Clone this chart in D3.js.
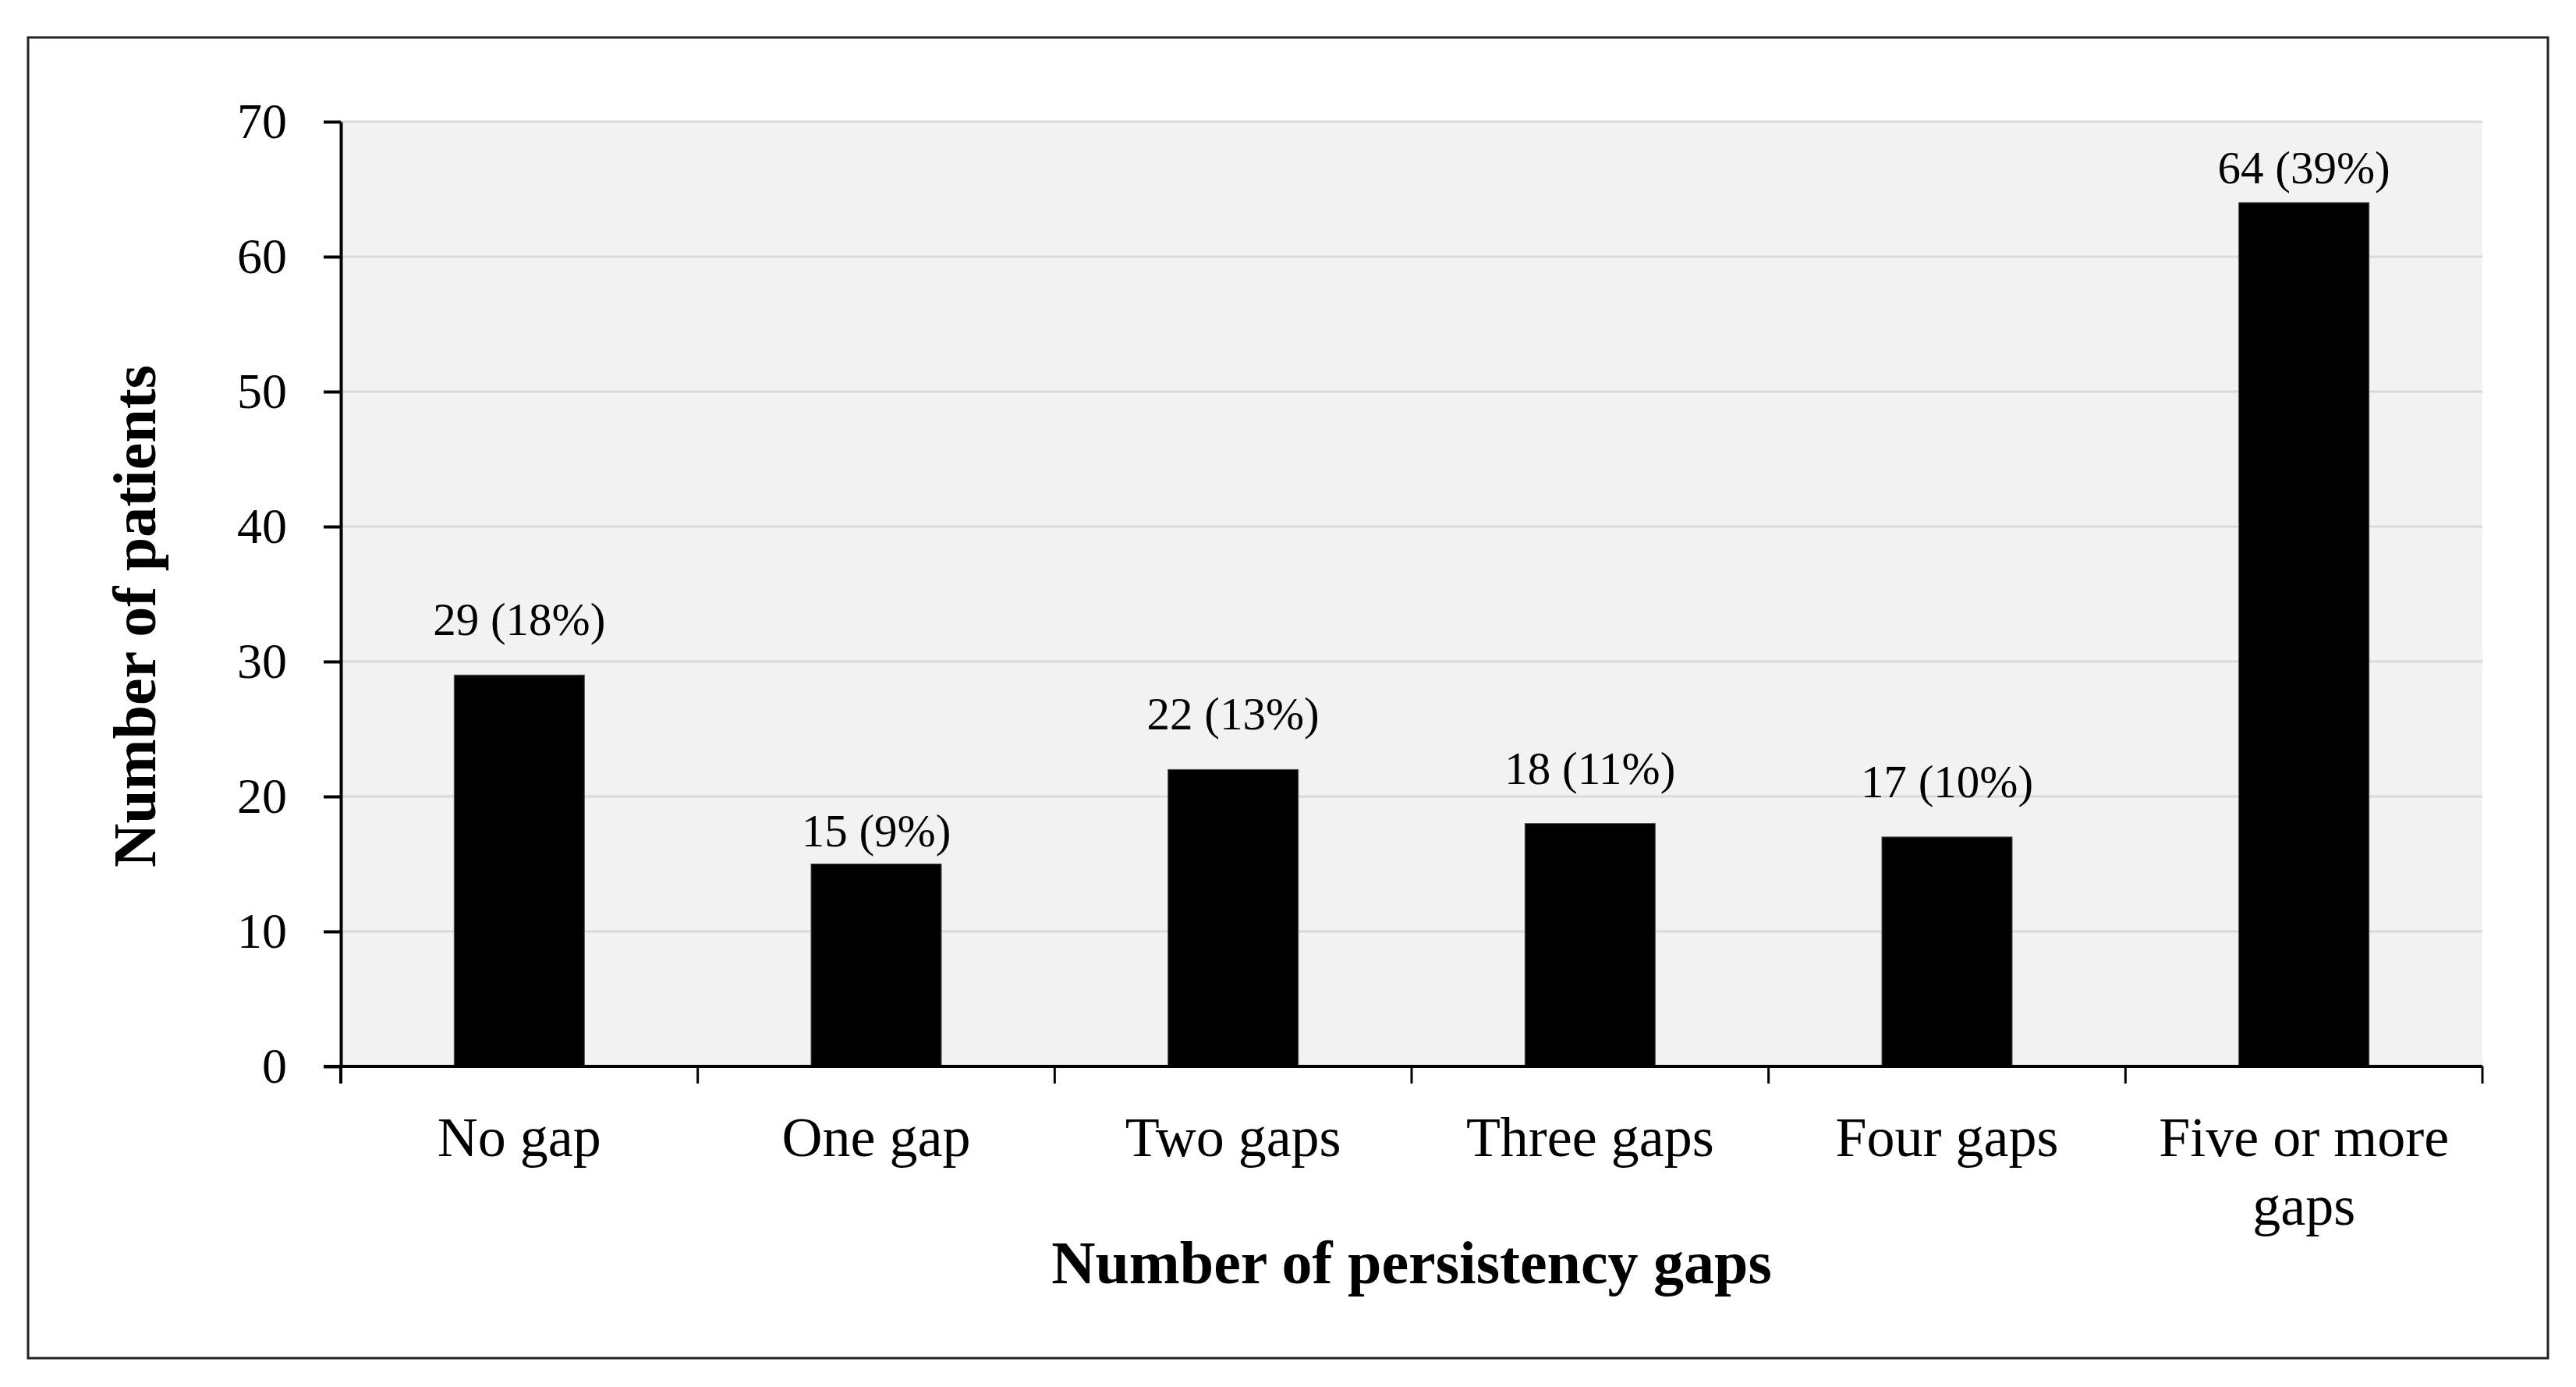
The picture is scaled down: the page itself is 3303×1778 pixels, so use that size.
<!DOCTYPE html>
<meta charset="utf-8">
<script src="https://d3js.org/d3.v7.min.js"></script>
<style>
  body { margin: 0; background: #fff; }
  text { font-family: "Liberation Serif", "Times New Roman", serif; fill: #000; }
</style>
<div id="chart"></div>
<script>
  // data
  const categories = ["No gap", "One gap", "Two gaps", "Three gaps", "Four gaps", "Five or more gaps"];
  const patients = [29, 15, 22, 18, 17, 64];
  const percents = [18, 9, 13, 11, 10, 39];
  const yTicks = [0, 10, 20, 30, 40, 50, 60, 70];

  // how far each value label sits above its bar (px), as placed in the original
  const labelLift = [51, 23, 51, 51, 51, 25];

  const width = 3303, height = 1778;
  const plot = { left: 437, right: 3183, top: 156, bottom: 1367 };

  const svg = d3.select("#chart").append("svg")
    .attr("width", width)
    .attr("height", height);

  // outer frame
  svg.append("rect")
    .attr("x", 36).attr("y", 48)
    .attr("width", 3267 - 36).attr("height", 1741 - 48)
    .attr("fill", "#fff")
    .attr("stroke", "#222")
    .attr("stroke-width", 3);

  const x = d3.scaleBand()
    .domain(categories)
    .range([plot.left, plot.right])
    .paddingInner(0.635)
    .paddingOuter(0.3175);

  const y = d3.scaleLinear()
    .domain([0, 70])
    .range([plot.bottom, plot.top]);

  // plot background
  svg.append("rect")
    .attr("x", plot.left).attr("y", y(70))
    .attr("width", plot.right - plot.left)
    .attr("height", y(0) - y(70))
    .attr("fill", "#f2f2f2");

  // gridlines
  svg.append("g")
    .selectAll("line")
    .data(yTicks.filter(d => d > 0))
    .join("line")
    .attr("x1", plot.left).attr("x2", plot.right)
    .attr("y1", d => y(d)).attr("y2", d => y(d))
    .attr("stroke", "#d9d9d9")
    .attr("stroke-width", 3);

  // bars
  svg.append("g")
    .selectAll("rect")
    .data(patients)
    .join("rect")
    .attr("x", (d, i) => x(categories[i]))
    .attr("y", d => y(d))
    .attr("width", x.bandwidth())
    .attr("height", d => y(0) - y(d))
    .attr("fill", "#000")
    .attr("stroke", "#555")
    .attr("stroke-width", 1);

  // value labels
  svg.append("g")
    .selectAll("text")
    .data(patients)
    .join("text")
    .attr("x", (d, i) => x(categories[i]) + x.bandwidth() / 2)
    .attr("y", (d, i) => y(d) - labelLift[i])
    .attr("text-anchor", "middle")
    .attr("font-size", 59)
    .text((d, i) => `${d} (${percents[i]}%)`);

  // y axis
  const yAxis = svg.append("g")
    .attr("transform", `translate(${plot.left},0)`)
    .call(d3.axisLeft(y).tickValues(yTicks).tickSize(22).tickSizeOuter(0).tickPadding(47));
  yAxis.select(".domain").attr("stroke", "#000").attr("stroke-width", 4);
  yAxis.selectAll(".tick line").attr("stroke", "#000").attr("stroke-width", 4);
  yAxis.selectAll(".tick text")
    .attr("font-size", 64)
    .attr("font-family", "Liberation Serif")
    .attr("fill", "#000");

  // x axis: line plus ticks at band boundaries
  const boundaries = categories.map(c => x(c) - x.step() * x.paddingInner() / 2)
    .concat([plot.right]);
  const xAxis = svg.append("g");
  xAxis.append("line")
    .attr("x1", plot.left - 22).attr("x2", plot.right)
    .attr("y1", y(0)).attr("y2", y(0))
    .attr("stroke", "#000").attr("stroke-width", 4);
  xAxis.selectAll(".bt")
    .data(boundaries)
    .join("line")
    .attr("class", "bt")
    .attr("x1", d => d).attr("x2", d => d)
    .attr("y1", y(0)).attr("y2", y(0) + 22)
    .attr("stroke", "#000").attr("stroke-width", d => d === plot.left ? 4 : 3);

  // category labels, wrapped to the band step
  const catSize = 72;
  const measure = svg.append("text").attr("font-size", catSize).attr("visibility", "hidden");
  function wrap(label) {
    const words = label.split(" ");
    const lines = [];
    let line = [];
    words.forEach(w => {
      const test = line.concat([w]).join(" ");
      measure.text(test);
      if (line.length && measure.node().getComputedTextLength() > x.step() - 30) {
        lines.push(line.join(" "));
        line = [w];
      } else {
        line.push(w);
      }
    });
    lines.push(line.join(" "));
    return lines;
  }

  categories.forEach(c => {
    const t = svg.append("text")
      .attr("x", x(c) + x.bandwidth() / 2)
      .attr("y", 1482)
      .attr("text-anchor", "middle")
      .attr("font-size", catSize);
    wrap(c).forEach((ln, i) => {
      t.append("tspan")
        .attr("x", x(c) + x.bandwidth() / 2)
        .attr("dy", i === 0 ? 0 : 88)
        .text(ln);
    });
  });
  measure.remove();

  // axis titles
  svg.append("text")
    .attr("x", (plot.left + plot.right) / 2)
    .attr("y", 1645)
    .attr("text-anchor", "middle")
    .attr("font-size", 78)
    .attr("font-weight", "bold")
    .text("Number of persistency gaps");

  svg.append("text")
    .attr("transform", "translate(199,790) rotate(-90)")
    .attr("text-anchor", "middle")
    .attr("font-size", 78)
    .attr("font-weight", "bold")
    .text("Number of patients");
</script>
